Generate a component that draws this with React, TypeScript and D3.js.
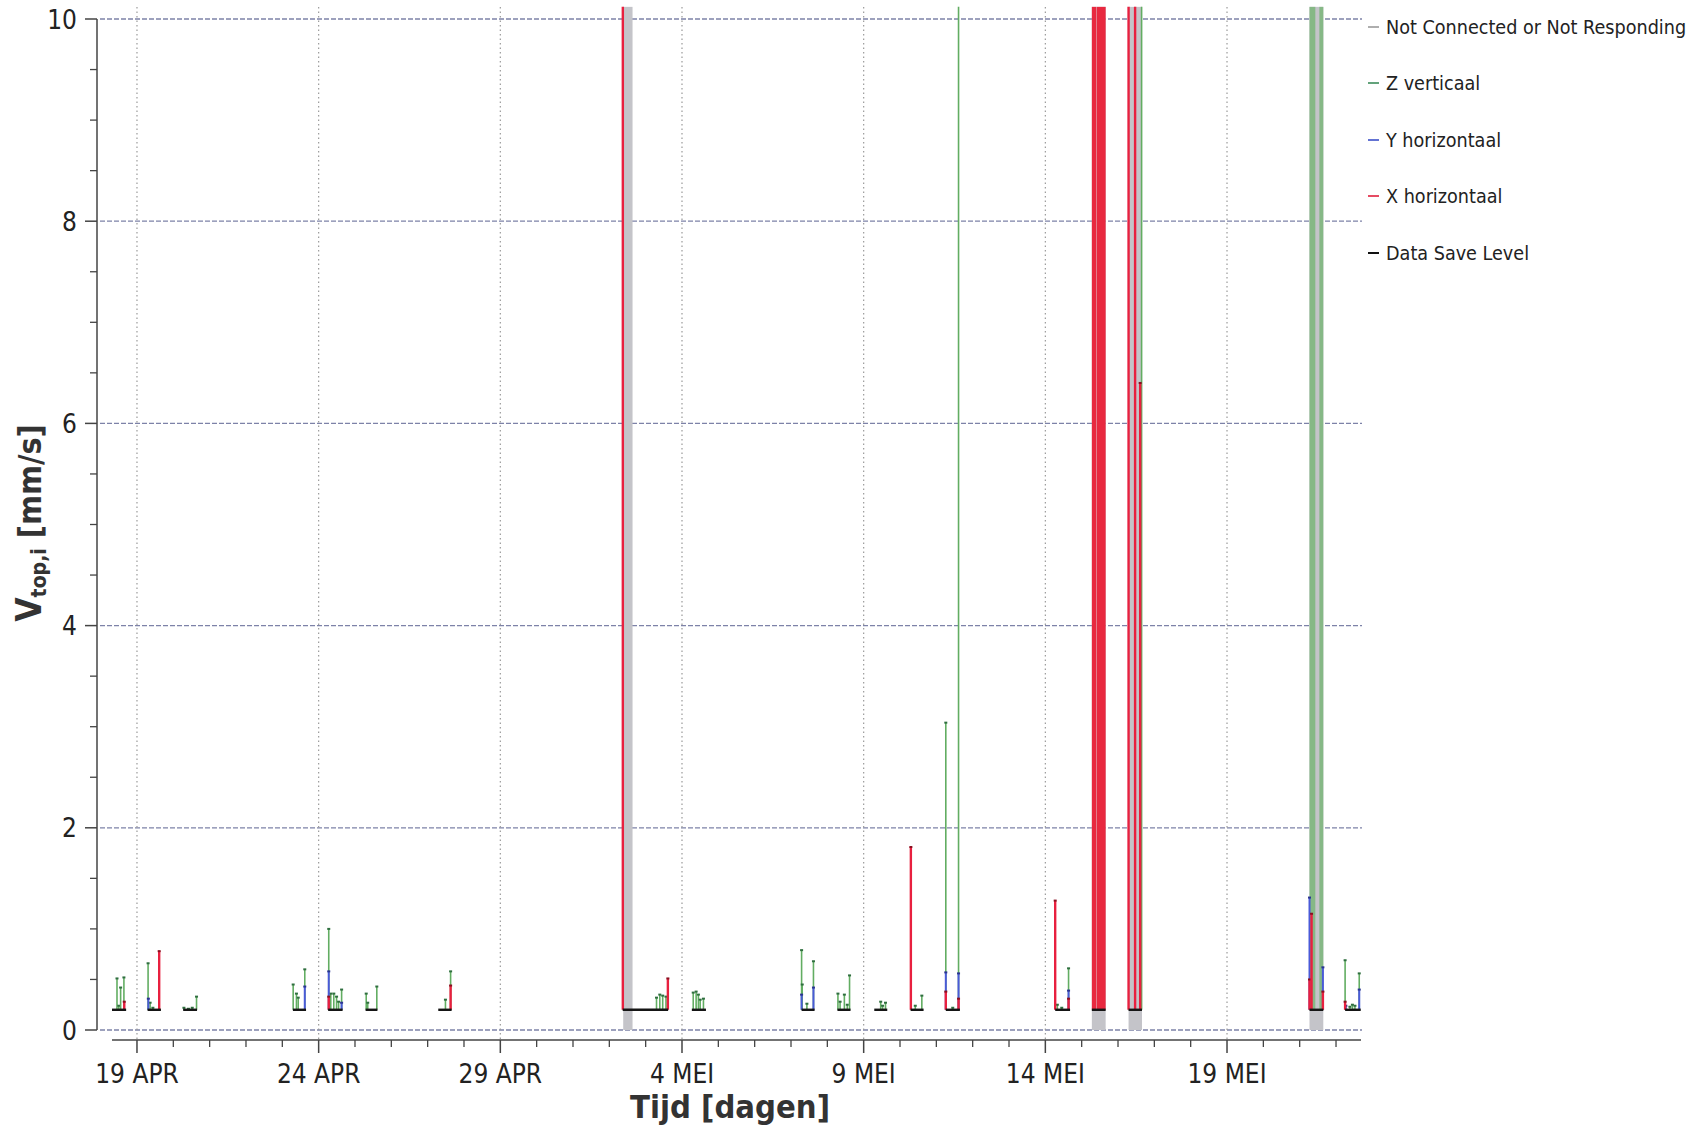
import React from "react";
import * as d3 from "d3";

const W = 1701;
const H = 1127;
const FONT = "'DejaVu Sans Condensed', 'DejaVu Sans', sans-serif";

// ---------- data ----------
const xDomain: [string, string] = ["2021-04-18 07:30", "2021-05-22 16:30"];
const xTickDates = [
  "2021-04-19 00:00",
  "2021-04-24 00:00",
  "2021-04-29 00:00",
  "2021-05-04 00:00",
  "2021-05-09 00:00",
  "2021-05-14 00:00",
  "2021-05-19 00:00",
];
const xTickLabels = ["19 APR", "24 APR", "29 APR", "4 MEI", "9 MEI", "14 MEI", "19 MEI"];
const yTicks = [0, 2, 4, 6, 8, 10];
const yMinorStep = 0.5;
const OVER = 10.12; // values beyond the visible range are clipped at the plot top

const legendLabels = [
  "Not Connected or Not Responding",
  "Z verticaal",
  "Y horizontaal",
  "X horizontaal",
  "Data Save Level",
];

const dataSaveLevel = 0.2;

const notConnected: [string, string][] = [
  ["2021-05-02 09:10", "2021-05-02 15:20"],
  ["2021-05-15 06:43", "2021-05-15 15:50"],
  ["2021-05-16 06:58", "2021-05-16 15:50"],
  ["2021-05-21 06:29", "2021-05-21 15:36"],
];

const saveSegments: [string, string][] = [
  ["2021-04-18 07:30", "2021-04-18 16:50"],
  ["2021-04-19 07:00", "2021-04-19 15:50"],
  ["2021-04-20 06:30", "2021-04-20 15:40"],
  ["2021-04-23 07:00", "2021-04-23 15:40"],
  ["2021-04-24 06:15", "2021-04-24 15:50"],
  ["2021-04-25 07:00", "2021-04-25 14:50"],
  ["2021-04-27 07:00", "2021-04-27 15:50"],
  ["2021-05-02 08:50", "2021-05-03 14:50"],
  ["2021-05-04 06:30", "2021-05-04 15:50"],
  ["2021-05-07 07:00", "2021-05-07 15:35"],
  ["2021-05-08 06:40", "2021-05-08 15:20"],
  ["2021-05-09 07:00", "2021-05-09 15:35"],
  ["2021-05-10 07:00", "2021-05-10 15:35"],
  ["2021-05-11 06:15", "2021-05-11 15:35"],
  ["2021-05-14 06:30", "2021-05-14 16:20"],
  ["2021-05-15 06:43", "2021-05-15 15:50"],
  ["2021-05-16 06:58", "2021-05-16 15:50"],
  ["2021-05-21 06:29", "2021-05-21 15:36"],
  ["2021-05-22 06:00", "2021-05-22 16:20"],
];

const zSpikes: [string, number][] = [
  ["2021-04-18 10:48", 0.51], ["2021-04-18 12:00", 0.24], ["2021-04-18 13:12", 0.42], ["2021-04-18 15:22", 0.52],
  ["2021-04-19 07:20", 0.66], ["2021-04-19 08:40", 0.27], ["2021-04-19 10:30", 0.22],
  ["2021-04-20 07:00", 0.22], ["2021-04-20 10:00", 0.21], ["2021-04-20 12:30", 0.22], ["2021-04-20 15:20", 0.33],
  ["2021-04-23 07:10", 0.45], ["2021-04-23 09:20", 0.36], ["2021-04-23 10:30", 0.32], ["2021-04-23 14:50", 0.6],
  ["2021-04-24 06:40", 1.0], ["2021-04-24 08:00", 0.36], ["2021-04-24 10:00", 0.36], ["2021-04-24 11:50", 0.33],
  ["2021-04-24 13:10", 0.28], ["2021-04-24 15:10", 0.4],
  ["2021-04-25 07:25", 0.36], ["2021-04-25 08:25", 0.27], ["2021-04-25 14:25", 0.43],
  ["2021-04-27 11:45", 0.3], ["2021-04-27 15:10", 0.58],
  ["2021-05-03 07:10", 0.32], ["2021-05-03 09:20", 0.35], ["2021-05-03 11:15", 0.34], ["2021-05-03 13:25", 0.33],
  ["2021-05-04 07:25", 0.37], ["2021-05-04 09:20", 0.38], ["2021-05-04 10:50", 0.35], ["2021-05-04 12:00", 0.3], ["2021-05-04 14:10", 0.31],
  ["2021-05-07 07:00", 0.79], ["2021-05-07 07:25", 0.45], ["2021-05-07 10:30", 0.26], ["2021-05-07 14:50", 0.68],
  ["2021-05-08 07:00", 0.36], ["2021-05-08 08:25", 0.28], ["2021-05-08 11:15", 0.35], ["2021-05-08 13:10", 0.25], ["2021-05-08 14:40", 0.54],
  ["2021-05-09 11:15", 0.28], ["2021-05-09 12:30", 0.24], ["2021-05-09 14:25", 0.27],
  ["2021-05-10 10:05", 0.24], ["2021-05-10 14:25", 0.34],
  ["2021-05-11 06:15", 3.04], ["2021-05-11 10:50", 0.22], ["2021-05-11 14:40", OVER],
  ["2021-05-14 07:55", 0.25], ["2021-05-14 10:50", 0.22], ["2021-05-14 15:20", 0.61],
  ["2021-05-16 15:35", OVER],
  ["2021-05-22 06:00", 0.69], ["2021-05-22 09:10", 0.23], ["2021-05-22 10:50", 0.25], ["2021-05-22 12:30", 0.24], ["2021-05-22 15:20", 0.56],
];

const ySpikes: [string, number][] = [
  ["2021-04-19 07:30", 0.31],
  ["2021-04-23 14:50", 0.43],
  ["2021-04-24 06:40", 0.58], ["2021-04-24 15:10", 0.27],
  ["2021-05-07 07:00", 0.35], ["2021-05-07 14:50", 0.42],
  ["2021-05-11 06:15", 0.57], ["2021-05-11 14:40", 0.56],
  ["2021-05-14 15:20", 0.39],
  ["2021-05-21 06:29", 1.31], ["2021-05-21 15:20", 0.62],
  ["2021-05-22 06:30", 0.24], ["2021-05-22 15:20", 0.4],
];

const xSpikes: [string, number][] = [
  ["2021-04-18 15:36", 0.28],
  ["2021-04-19 14:40", 0.78],
  ["2021-04-24 06:40", 0.33],
  ["2021-04-27 15:10", 0.44],
  ["2021-05-02 08:55", OVER], ["2021-05-03 14:40", 0.51],
  ["2021-05-10 07:10", 1.81],
  ["2021-05-11 06:15", 0.38], ["2021-05-11 14:40", 0.31],
  ["2021-05-14 06:30", 1.28], ["2021-05-14 15:20", 0.31],
  ["2021-05-16 06:58", OVER], ["2021-05-16 11:17", OVER], ["2021-05-16 14:38", 6.4],
  ["2021-05-21 06:29", 0.5], ["2021-05-21 07:50", 1.15], ["2021-05-21 15:20", 0.38],
  ["2021-05-22 06:00", 0.28],
];

// periods where a channel stays beyond the range for the whole interval
const xOverRange: [string, string][] = [
  ["2021-05-15 06:43", "2021-05-15 09:40"],
  ["2021-05-15 10:05", "2021-05-15 15:50"],
];
const zOverRange: [string, string][] = [
  ["2021-05-21 06:29", "2021-05-21 10:20"],
  ["2021-05-21 13:00", "2021-05-21 15:36"],
];

// ---------- styles ----------
const C = {
  z: "#62ad62",
  zMark: "#2f6f3f",
  zFill: "#86b886",
  y: "#4a5ad8",
  yMark: "#2a3590",
  x: "#e8203f",
  xMark: "#8a1020",
  xFill: "#e8283f",
  xStripe: "#f3a0aa",
  nc: "#c4c4c9",
  save: "#151515",
  grid: "#7d82a8",
  vgrid: "#9a9a9a",
  axis: "#444",
  text: "#222",
};

const parse = d3.timeParse("%Y-%m-%d %H:%M");
const P = (s: string) => parse(s) as Date;

export default function App() {
  const x = d3.scaleTime().domain([P(xDomain[0]), P(xDomain[1])]).range([112, 1361]);
  const y = d3.scaleLinear().domain([0, 10]).range([1030, 19]);
  const yTop = y(OVER);
  const yBase = y(dataSaveLevel);
  const clip = (v: number) => y(Math.min(v, OVER));

  const majorSet = new Set(xTickDates.map((d) => P(d).getTime()));
  const dayTicks = d3.timeDay.range(d3.timeDay.ceil(x.domain()[0]), x.domain()[1]);
  const yMinor = d3.range(0, 10 + 1e-9, yMinorStep).filter((v) => !yTicks.includes(v));

  const spikes = (data: [string, number][], color: string, mark: string, w: number, key: string) =>
    data.map(([t, v], i) => {
      const px = x(P(t));
      return (
        <g key={key + i}>
          <line x1={px} x2={px} y1={yBase} y2={clip(v)} stroke={color} strokeWidth={w} />
          {v < OVER && <rect x={px - 1.5} y={clip(v) - 1} width={3} height={2} fill={mark} />}
        </g>
      );
    });

  const legendY = [34, 90, 147, 203, 260];
  const legendColors = ["#9a9a9a", "#3c8c5a", "#3c50c8", "#e0203c", "#111"];

  return (
    <svg
      width={W}
      height={H}
      style={{ position: "absolute", left: 0, top: 0, background: "#fff" }}
      fontFamily={FONT}
    >
      <rect x={0} y={0} width={W} height={H} fill="#fff" />
      {/* horizontal grid */}
      {yTicks.map((v) => (
        <line key={"hg" + v} x1={100} x2={1362} y1={y(v)} y2={y(v)} stroke={C.grid} strokeWidth={1.3} strokeDasharray="5 2" />
      ))}
      {/* vertical grid */}
      {xTickDates.map((d) => (
        <line key={"vg" + d} x1={x(P(d))} x2={x(P(d))} y1={7} y2={1040} stroke={C.vgrid} strokeWidth={1.2} strokeDasharray="1.5 3" />
      ))}

      {/* not connected bars */}
      {notConnected.map(([a, b], i) => (
        <rect key={"nc" + i} x={x(P(a))} y={yTop} width={x(P(b)) - x(P(a))} height={y(0) - yTop} fill={C.nc} />
      ))}

      {/* over-range fills */}
      {zOverRange.map(([a, b], i) => (
        <rect key={"zo" + i} x={x(P(a))} y={yTop} width={x(P(b)) - x(P(a))} height={yBase - yTop} fill={C.zFill} />
      ))}
      {xOverRange.length > 1 && (
        <rect
          x={x(P(xOverRange[0][1]))}
          y={yTop}
          width={x(P(xOverRange[1][0])) - x(P(xOverRange[0][1]))}
          height={yBase - yTop}
          fill={C.xStripe}
        />
      )}
      {xOverRange.map(([a, b], i) => (
        <rect key={"xo" + i} x={x(P(a))} y={yTop} width={x(P(b)) - x(P(a))} height={yBase - yTop} fill={C.xFill} />
      ))}

      {spikes(zSpikes, C.z, C.zMark, 1.6, "z")}
      {spikes(ySpikes, C.y, C.yMark, 2, "y")}
      {spikes(xSpikes, C.x, C.xMark, 2.4, "x")}

      {/* data save level */}
      {saveSegments.map(([a, b], i) => (
        <line key={"sv" + i} x1={x(P(a))} x2={x(P(b))} y1={yBase} y2={yBase} stroke={C.save} strokeWidth={2.4} />
      ))}

      {/* y axis */}
      <line x1={97} x2={97} y1={y(10)} y2={y(0)} stroke={C.axis} strokeWidth={1.5} />
      {yTicks.map((v) => (
        <g key={"yt" + v}>
          <line x1={85} x2={97} y1={y(v)} y2={y(v)} stroke={C.axis} strokeWidth={1.5} />
          <text x={77} y={y(v) + 9.5} textAnchor="end" fontSize={26} fill={C.text}>
            {v}
          </text>
        </g>
      ))}
      {yMinor.map((v) => (
        <line key={"ym" + v} x1={90} x2={97} y1={y(v)} y2={y(v)} stroke={C.axis} strokeWidth={1.3} />
      ))}

      {/* x axis */}
      <line x1={112} x2={1361} y1={1040} y2={1040} stroke={C.axis} strokeWidth={1.5} />
      {dayTicks
        .filter((d) => !majorSet.has(d.getTime()))
        .map((d) => (
          <line key={"xm" + d.getTime()} x1={x(d)} x2={x(d)} y1={1040} y2={1047} stroke={C.axis} strokeWidth={1.3} />
        ))}
      {xTickDates.map((d, i) => (
        <g key={"xt" + d}>
          <line x1={x(P(d))} x2={x(P(d))} y1={1040} y2={1053} stroke={C.axis} strokeWidth={1.5} />
          <text x={x(P(d))} y={1083} textAnchor="middle" fontSize={26} fill={C.text}>
            {xTickLabels[i]}
          </text>
        </g>
      ))}

      {/* axis titles */}
      <text x={730} y={1118} textAnchor="middle" fontSize={32.5} fontWeight="bold" fill="#333">
        Tijd [dagen]
      </text>
      <text transform="translate(41,523) rotate(-90)" textAnchor="middle" fontWeight="bold" fill="#333">
        <tspan fontSize={35}>V</tspan>
        <tspan fontSize={21} dy={5}>top,i</tspan>
        <tspan fontSize={32} dy={-5}> [mm/s]</tspan>
      </text>

      {/* legend */}
      {legendLabels.map((l, i) => (
        <g key={"lg" + i}>
          <line x1={1368} x2={1379} y1={legendY[i] - 7} y2={legendY[i] - 7} stroke={legendColors[i]} strokeWidth={i === 4 ? 2 : 1.6} />
          <text x={1386} y={legendY[i]} fontSize={19.6} fill={C.text}>
            {l}
          </text>
        </g>
      ))}
    </svg>
  );
}
